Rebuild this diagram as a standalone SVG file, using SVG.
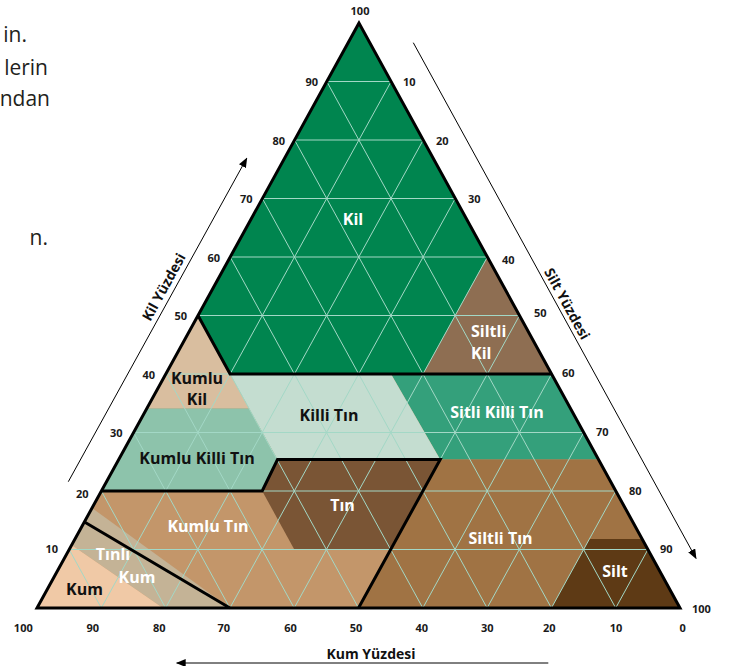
<svg xmlns="http://www.w3.org/2000/svg" width="731" height="666" viewBox="0 0 731 666">
<defs>
<style>
.num{font-family:"Open Sans","Noto Sans",sans-serif;font-weight:700;font-size:11px;fill:#1a1a1a}
.lbl{font-family:"Open Sans","Noto Sans",sans-serif;font-weight:700;font-size:16px}
.w{fill:#ffffff}
.b{fill:#111111}
.ax{font-family:"Open Sans","Noto Sans",sans-serif;font-weight:700;font-size:14px;fill:#111}
.frag{font-family:"Open Sans","Noto Sans",sans-serif;font-size:21px;fill:#231f20}
.grid line{stroke:#a3d8c6;stroke-width:1}
.thick{fill:none;stroke:#000;stroke-width:3;stroke-linejoin:miter}
.arr{stroke:#000;stroke-width:1;fill:none}
</style>
<marker id="ah" viewBox="0 0 10 8" refX="9" refY="4" markerWidth="10" markerHeight="8" markerUnits="userSpaceOnUse" orient="auto">
<path d="M0,0 L10,4 L0,8 z" fill="#000"/>
</marker>
</defs>
<rect width="731" height="666" fill="#fff"/>

<g id="fragments">
<text class="frag" x="27" y="42" text-anchor="end">in.</text>
<text class="frag" x="48" y="75" text-anchor="end">lerin</text>
<text class="frag" x="50" y="106" text-anchor="end">ndan</text>
<text class="frag" x="48" y="245" text-anchor="end">n.</text>
</g>

<g id="regions">
<polygon id="kumlu-tin" points="359,23 37,608 680,608" fill="#c3966a"/>
<polygon id="kil" points="359,23 198,315.5 230.1,374 423,374 487.4,257" fill="#00854f"/>
<polygon id="siltli-kil" points="487.4,257 423,374 551.6,374" fill="#8e6e52"/>
<polygon id="sitli-killi-tin" points="391,374 551.6,374 598.5,459.5 440.2,459.5" fill="#34a07b"/>
<polygon id="killi-tin" points="230.1,374 391,374 440.2,459.5 277.5,459.5" fill="#c4ddd0"/>
<polygon id="kumlu-kil" points="198,315.5 146.8,408.5 249,408.5" fill="#d9be9f"/>
<polygon id="kumlu-killi-tin" points="146.8,408.5 249,408.5 277.5,459.5 262.2,491 101.4,491" fill="#8dc3ab"/>
<polygon id="tin" points="277.5,459.5 440.2,459.5 390.7,549.5 294.3,549.5 262.2,491" fill="#7a5535"/>
<polygon id="siltli-tin" points="440.2,459.5 598.5,459.5 642.1,539 589.4,539 551.4,608 358.5,608" fill="#a07344"/>
<polygon id="silt" points="589.4,539 642.1,539 680,608 551.4,608" fill="#5e3a15"/>
<polygon id="tinli-kum" points="92,508 229.9,608 163,608 71.7,545" fill="#c4b396"/>
<polygon id="kum" points="37,608 71.7,545 163,608" fill="#f0c9a6"/>
</g>

<g class="grid" id="grid">
<line x1="69.2" y1="549.5" x2="647.9" y2="549.5"/>
<line x1="101.4" y1="491" x2="615.8" y2="491"/>
<line x1="133.6" y1="432.5" x2="583.7" y2="432.5"/>
<line x1="165.8" y1="374" x2="551.6" y2="374"/>
<line x1="198" y1="315.5" x2="519.5" y2="315.5"/>
<line x1="230.2" y1="257" x2="487.4" y2="257"/>
<line x1="262.4" y1="198.5" x2="455.3" y2="198.5"/>
<line x1="294.6" y1="140" x2="423.2" y2="140"/>
<line x1="326.8" y1="81.5" x2="391.1" y2="81.5"/>
<line x1="615.7" y1="608" x2="326.8" y2="81.5"/>
<line x1="551.4" y1="608" x2="294.6" y2="140"/>
<line x1="487.1" y1="608" x2="262.4" y2="198.5"/>
<line x1="422.8" y1="608" x2="230.2" y2="257"/>
<line x1="358.5" y1="608" x2="198" y2="315.5"/>
<line x1="294.2" y1="608" x2="165.8" y2="374"/>
<line x1="229.9" y1="608" x2="133.6" y2="432.5"/>
<line x1="165.6" y1="608" x2="101.4" y2="491"/>
<line x1="101.3" y1="608" x2="69.2" y2="549.5"/>
<line x1="101.3" y1="608" x2="391.1" y2="81.5"/>
<line x1="165.6" y1="608" x2="423.2" y2="140"/>
<line x1="229.9" y1="608" x2="455.3" y2="198.5"/>
<line x1="294.2" y1="608" x2="487.4" y2="257"/>
<line x1="358.5" y1="608" x2="519.5" y2="315.5"/>
<line x1="422.8" y1="608" x2="551.6" y2="374"/>
<line x1="487.1" y1="608" x2="583.7" y2="432.5"/>
<line x1="551.4" y1="608" x2="615.8" y2="491"/>
<line x1="615.7" y1="608" x2="647.9" y2="549.5"/>
</g>

<g id="boundaries">
<polyline class="thick" points="198,315.5 230.1,374 551.6,374"/>
<polyline class="thick" points="101.4,491 262.2,491 277.5,459.5 440.2,459.5 358.5,608"/>
<polyline class="thick" points="84.5,522 229.9,608"/>
<polygon class="thick" points="359,23 37,608 680,608"/>
</g>

<g id="labels">
<text class="lbl w" x="353" y="225" text-anchor="middle">Kil</text>
<text class="lbl w" x="471" y="336.5">Siltli</text>
<text class="lbl w" x="471" y="359">Kil</text>
<text class="lbl b" x="197" y="383.5" text-anchor="middle">Kumlu</text>
<text class="lbl b" x="197" y="405" text-anchor="middle">Kil</text>
<text class="lbl b" x="329" y="420.5" text-anchor="middle">Killi Tın</text>
<text class="lbl w" x="497" y="418" text-anchor="middle">Sitli Killi Tın</text>
<text class="lbl b" x="197" y="464" text-anchor="middle">Kumlu Killi Tın</text>
<text class="lbl w" x="342.5" y="510.5" text-anchor="middle">Tın</text>
<text class="lbl w" x="208" y="531.5" text-anchor="middle">Kumlu Tın</text>
<text class="lbl w" x="113" y="560" text-anchor="middle">Tınlı</text>
<text class="lbl w" x="137" y="583" text-anchor="middle">Kum</text>
<text class="lbl b" x="84.5" y="595" text-anchor="middle">Kum</text>
<text class="lbl w" x="500.5" y="544" text-anchor="middle">Siltli Tın</text>
<text class="lbl w" x="615" y="577" text-anchor="middle">Silt</text>
</g>

<g id="clay-scale" class="num" text-anchor="end">
<text x="318" y="85.5">90</text>
<text x="285" y="144.5">80</text>
<text x="252.5" y="203">70</text>
<text x="220" y="262">60</text>
<text x="187" y="320">50</text>
<text x="155" y="378.5">40</text>
<text x="122.5" y="436.5">30</text>
<text x="88.5" y="498">20</text>
<text x="58" y="553">10</text>
</g>
<text class="num" x="360" y="15" text-anchor="middle">100</text>

<g id="silt-scale" class="num">
<text x="403" y="85.5">10</text>
<text x="436" y="144.5">20</text>
<text x="468" y="203">30</text>
<text x="502" y="264">40</text>
<text x="534" y="317">50</text>
<text x="562" y="377">60</text>
<text x="596" y="436">70</text>
<text x="629" y="495">80</text>
<text x="660" y="553">90</text>
<text x="692" y="613">100</text>
</g>

<g id="sand-scale" class="num" text-anchor="middle">
<text x="23.3" y="631.5">100</text>
<text x="92.7" y="631.5">90</text>
<text x="159.3" y="631.5">80</text>
<text x="223.7" y="631.5">70</text>
<text x="290.5" y="631.5">60</text>
<text x="356" y="631.5">50</text>
<text x="421.7" y="631.5">40</text>
<text x="487.3" y="631.5">30</text>
<text x="549.3" y="631.5">20</text>
<text x="616" y="631.5">10</text>
<text x="682.7" y="631.5">0</text>
</g>

<g id="axes">
<line class="arr" x1="68.3" y1="481.7" x2="246.7" y2="158.3" marker-end="url(#ah)"/>
<line class="arr" x1="413.3" y1="42.7" x2="696" y2="558.3" marker-end="url(#ah)"/>
<line class="arr" x1="548.3" y1="663" x2="176.7" y2="663" marker-end="url(#ah)"/>
<text class="ax" text-anchor="middle" dominant-baseline="central" transform="translate(163.3,286.7) rotate(-61.2)">Kil Yüzdesi</text>
<text class="ax" text-anchor="middle" dominant-baseline="central" transform="translate(567.5,303.5) rotate(61.2)">Silt Yüzdesi</text>
<text class="ax" x="371" y="659" text-anchor="middle">Kum Yüzdesi</text>
</g>
</svg>
